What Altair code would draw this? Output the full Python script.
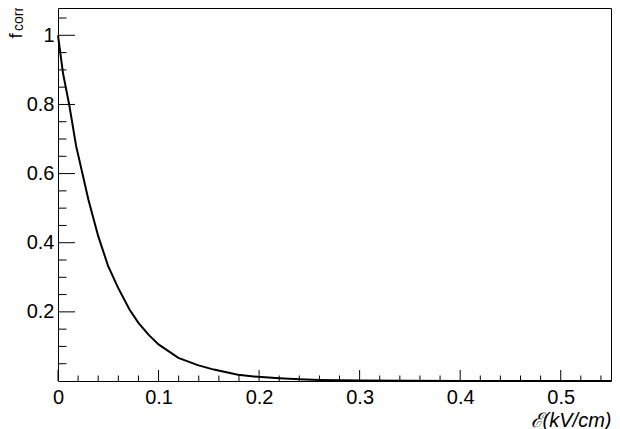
import altair as alt
import pandas as pd

# curve
e_field = [0.000, 0.005, 0.0111, 0.018, 0.0243, 0.0302, 0.040, 0.0499, 0.0597, 0.0711,
           0.080, 0.090, 0.100, 0.1197, 0.139, 0.155, 0.179, 0.199, 0.220, 0.240,
           0.260, 0.280, 0.300, 0.350, 0.400, 0.450, 0.500, 0.550]
f_corr = [1.000, 0.890, 0.800, 0.680, 0.600, 0.525, 0.419, 0.332, 0.270, 0.207,
          0.168, 0.134, 0.106, 0.067, 0.046, 0.033, 0.018, 0.012, 0.008, 0.005,
          0.003, 0.002, 0.0013, 0.0005, 0.0002, 0.0001, 0.00003, 0.00001]

x_major = [0.0, 0.1, 0.2, 0.3, 0.4, 0.5]
x_minor = [0.02, 0.04, 0.06, 0.08, 0.12, 0.14, 0.16, 0.18, 0.22, 0.24, 0.26, 0.28,
           0.32, 0.34, 0.36, 0.38, 0.42, 0.44, 0.46, 0.48, 0.52, 0.54]
y_major = [0.2, 0.4, 0.6, 0.8, 1.0]
y_minor = [0.05, 0.1, 0.15, 0.25, 0.3, 0.35, 0.45, 0.5, 0.55, 0.65, 0.7, 0.75,
           0.85, 0.9, 0.95, 1.05]

W, H = 553, 373
FONT = "Liberation Sans"

xscale = alt.Scale(domain=[0, 0.55], nice=False, zero=False)
yscale = alt.Scale(domain=[0, 1.079], nice=False, zero=False)

xaxis = alt.Axis(values=x_major, format="~g", ticks=False, tickSize=0,
                 domain=False, grid=False, labelPadding=6,
                 labelFlush=False, labelFont=FONT, labelFontSize=20,
                 labelColor="black",
                 title="ℰ(kV/cm)", titleAnchor="end",
                 titleFontStyle="italic", titleFontWeight="normal",
                 titleFontSize=20, titleFont=FONT, titleColor="black",
                 titlePadding=3)
yaxis = alt.Axis(values=y_major, format="~g", ticks=False, tickSize=0,
                 domain=False, grid=False, labelPadding=4,
                 labelFlush=False, labelFont=FONT, labelFontSize=20,
                 labelColor="black",
                 title="f", titleFont=FONT, titleFontSize=19,
                 titleFontWeight="normal", titleColor="black",
                 titleAngle=270, titleAlign="left", titleBaseline="alphabetic",
                 titleX=-37, titleY=30)

df = pd.DataFrame({"E": e_field, "f": f_corr})

line = alt.Chart(df).mark_line(color="black", strokeWidth=2).encode(
    x=alt.X("E:Q", scale=xscale, axis=xaxis),
    y=alt.Y("f:Q", scale=yscale, axis=yaxis),
)

def xticks(vals, length):
    return alt.Chart(pd.DataFrame({"E": vals})).mark_rule(color="black", strokeWidth=1).encode(
        x=alt.X("E:Q", scale=xscale, axis=xaxis),
        y=alt.value(H), y2=alt.value(H - length))

def yticks(vals, length):
    return alt.Chart(pd.DataFrame({"f": vals})).mark_rule(color="black", strokeWidth=1).encode(
        y=alt.Y("f:Q", scale=yscale, axis=yaxis),
        x=alt.value(0), x2=alt.value(length))

t_corr = alt.Chart(pd.DataFrame({"t": ["corr"]})).mark_text(
    align="left", baseline="alphabetic", font=FONT, fontSize=14, color="black",
    angle=270
).encode(text="t:N", x=alt.value(-35), y=alt.value(23))

chart = alt.layer(
    xticks(x_minor, 5.5), xticks(x_major, 11),
    yticks(y_minor, 8.5), yticks(y_major, 17),
    line, t_corr,
).properties(
    width=W, height=H,
    autosize=alt.AutoSizeParams(type="none"),
    padding={"left": 50, "top": 0, "right": 1, "bottom": 48},
    background="white",
).configure_view(stroke="black", strokeWidth=1)

chart.save("out.html", embed_options={"renderer": "svg", "actions": False})
